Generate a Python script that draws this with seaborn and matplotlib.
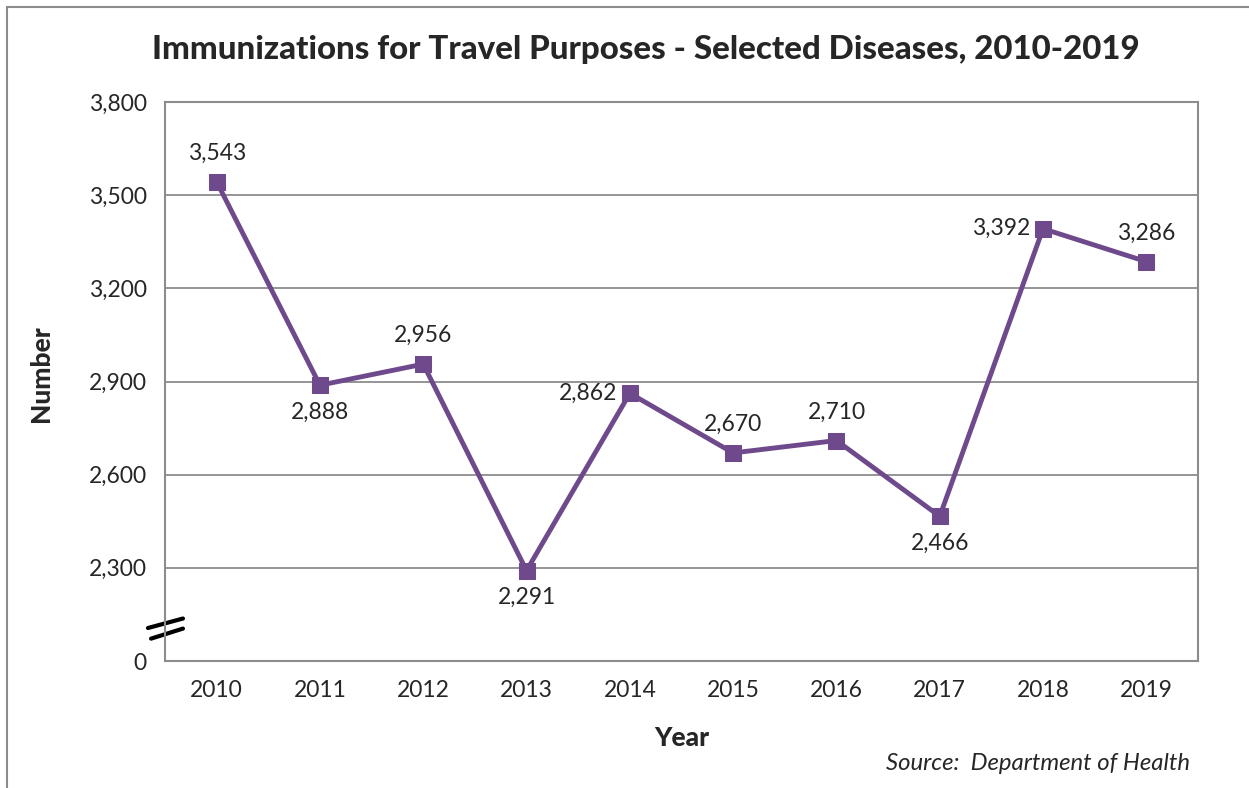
import matplotlib
matplotlib.use("Agg")
import matplotlib.pyplot as plt
import seaborn as sns
import pandas as pd
from matplotlib.lines import Line2D

years = ["2010", "2011", "2012", "2013", "2014", "2015", "2016", "2017", "2018", "2019"]
values = [3543, 2888, 2956, 2291, 2862, 2670, 2710, 2466, 3392, 3286]
label_pos = ["above", "below", "above", "below", "left", "above", "above", "below", "left", "above"]
yticks = [2000, 2300, 2600, 2900, 3200, 3500, 3800]
ytick_labels = ["0", "2,300", "2,600", "2,900", "3,200", "3,500", "3,800"]

sns.set_theme(style="white")
plt.rcParams['font.family'] = ['Lato', 'DejaVu Sans']

purple = "#6E4A8C"
grid_gray = "#8C8C8C"

fig = plt.figure(figsize=(12.49, 7.88), dpi=100)
ax = fig.add_axes([165/1249, 1-661/788, (1198-165)/1249, (661-102)/788])

df = pd.DataFrame({"Year": years, "Number": values})
df["x"] = range(len(years))
sns.lineplot(data=df, x="x", y="Number", ax=ax, color=purple, linewidth=3.5,
             marker="s", markersize=11, markeredgecolor=purple, markerfacecolor=purple)

ax.set_xlim(-0.5, len(years) - 0.5)
ax.set_ylim(2000, 3800)
ax.set_xticks(range(len(years)))
ax.set_xticklabels(years, fontsize=16.5)
ax.set_yticks(yticks)
ax.set_yticklabels(ytick_labels, fontsize=16.5)
ax.tick_params(axis="x", length=0, pad=14)
ax.tick_params(axis="y", length=0, pad=13)

for y in yticks[1:-1]:
    ax.axhline(y, color=grid_gray, linewidth=1.3, zorder=0)
for s in ax.spines.values():
    s.set_color(grid_gray)
    s.set_linewidth(1.5)

ax.set_xlabel("Year", fontsize=19, fontweight=900, labelpad=18)
ax.set_ylabel("Number", fontsize=19, fontweight=900, labelpad=16)
ax.yaxis.set_label_coords(-0.108, 0.514)

for i, (v, p) in enumerate(zip(values, label_pos)):
    txt = f"{v:,}"
    if p == "above":
        ax.annotate(txt, (i, v), xytext=(0, 13), textcoords="offset points",
                    ha="center", va="bottom", fontsize=16.5)
    elif p == "below":
        ax.annotate(txt, (i, v), xytext=(0, -12), textcoords="offset points",
                    ha="center", va="top", fontsize=16.5)
    else:
        ax.annotate(txt, (i, v), xytext=(-9, 0), textcoords="offset points",
                    ha="right", va="center", fontsize=16.5)

# axis break marks
tr = ax.transAxes
ax.add_line(Line2D([-0.0165, 0.0174], [0.059, 0.076], transform=tr,
                   color="black", linewidth=3, clip_on=False))
ax.add_line(Line2D([-0.0135, 0.0174], [0.040, 0.058], transform=tr,
                   color="black", linewidth=3, clip_on=False))

fig.suptitle("Immunizations for Travel Purposes - Selected Diseases, 2010-2019",
             x=646/1249, y=1-50/788, fontsize=23.8, fontweight=900, va="center")

fig.text(1190/1249, 1-763/788, "Source:  Department of Health", ha="right", va="center",
         fontsize=17.2, style="italic")

# outer border
fig.add_artist(Line2D([7/1249, 7/1249], [0, 1-7/788], transform=fig.transFigure,
                      color=grid_gray, linewidth=1.5))
fig.add_artist(Line2D([7/1249, 1], [1-7/788, 1-7/788], transform=fig.transFigure,
                      color=grid_gray, linewidth=1.5))

fig.savefig("out.png", dpi=100)
